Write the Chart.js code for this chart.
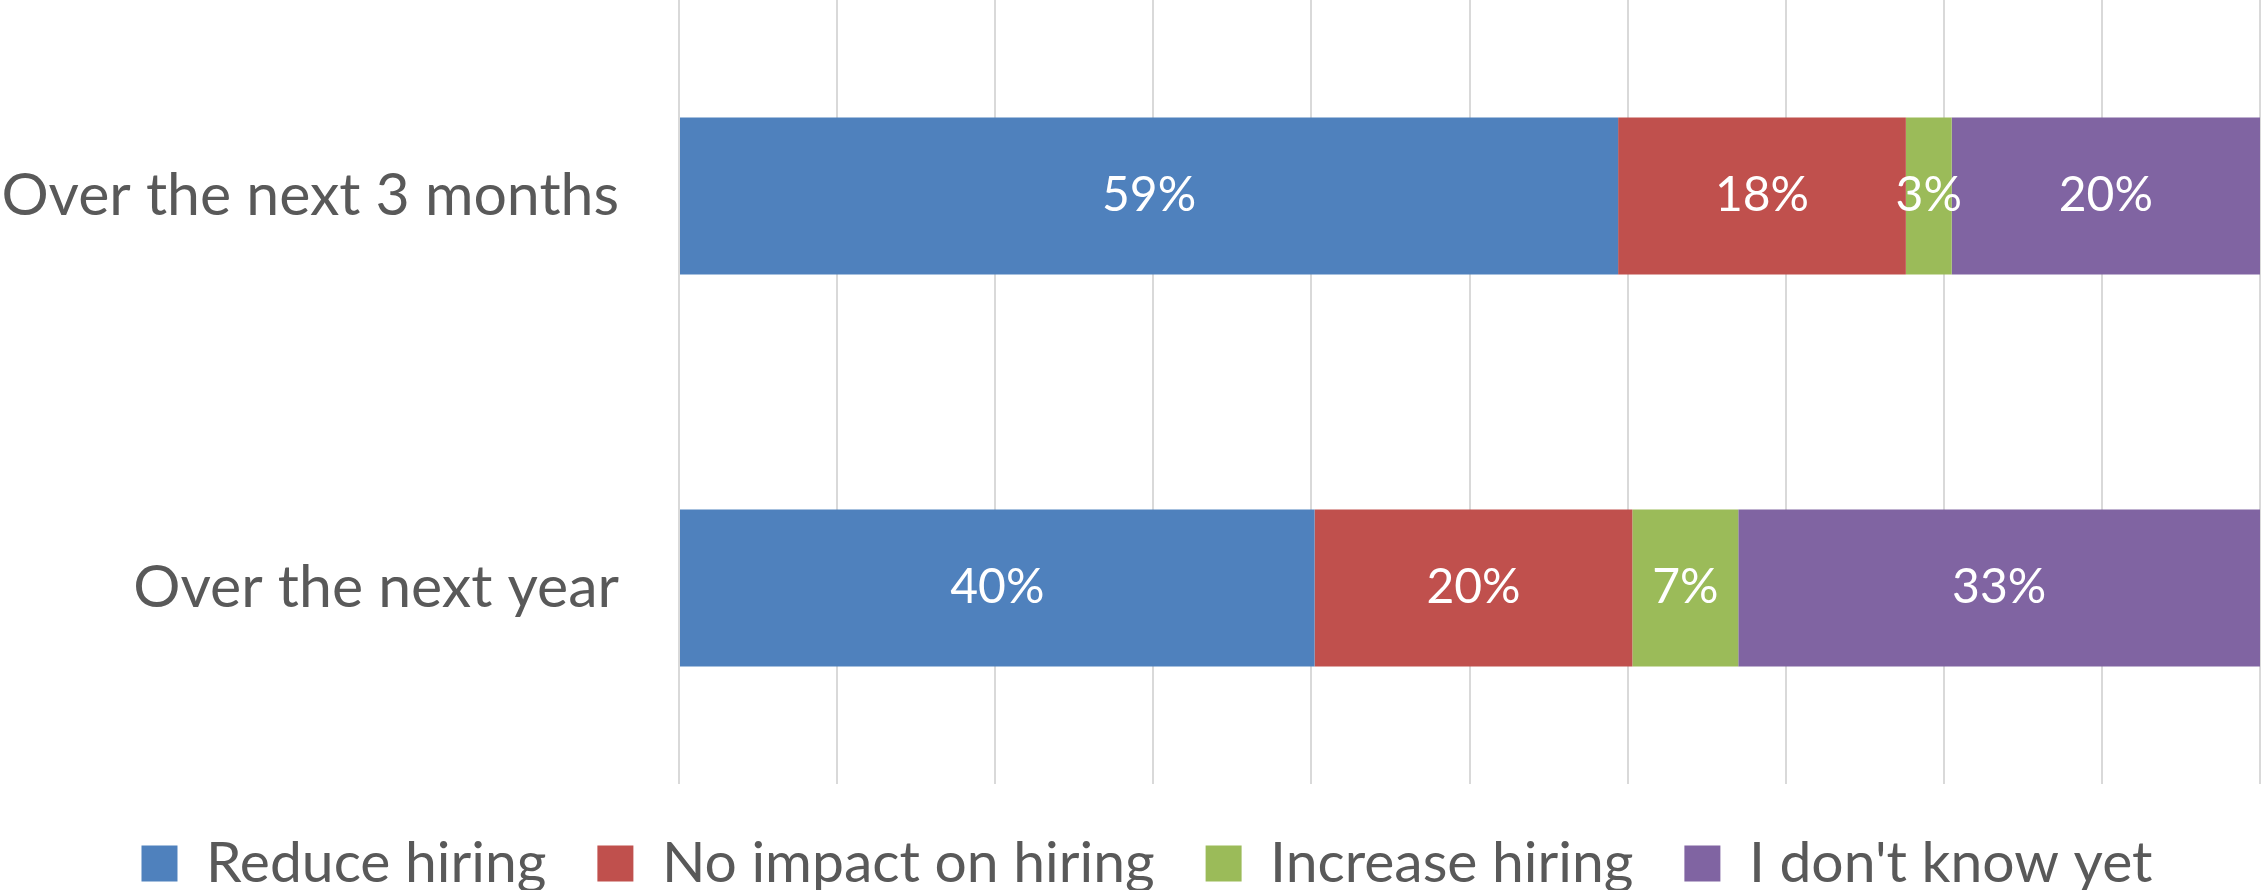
<!DOCTYPE html>
<html>
<head>
<meta charset="utf-8">
<script src="https://cdn.jsdelivr.net/npm/chart.js@4.4.1/dist/chart.umd.min.js"></script>
<style>
    html, body { margin: 0; padding: 0; background: #ffffff; }
    #wrap { width: 2265px; height: 890px; }
</style>
</head>
<body>
<div id="wrap"><canvas id="hiringChart"></canvas></div>
<script>
const categories = ["Over the next 3 months", "Over the next year"];
const seriesNames = ["Reduce hiring", "No impact on hiring", "Increase hiring", "I don't know yet"];
const reduceHiring = [59.4, 40.2];
const noImpact = [18.2, 20.1];
const increaseHiring = [2.9, 6.7];
const dontKnow = [19.5, 33.0];
const xTicks = [0, 10, 20, 30, 40, 50, 60, 70, 80, 90, 100];

const colors = ["#4F81BD", "#C0504D", "#9BBB59", "#8064A2"];
const FONT = "Lato, 'Liberation Sans', sans-serif";

// etichette bianche al centro di ogni segmento
const barLabels = {
    id: "barLabels",
    afterDatasetsDraw(chart) {
        const ctx = chart.ctx;
        ctx.save();
        ctx.fillStyle = "#ffffff";
        ctx.font = "48px " + FONT;
        ctx.textAlign = "center";
        ctx.textBaseline = "middle";
        chart.data.datasets.forEach((ds, i) => {
            chart.getDatasetMeta(i).data.forEach((bar, j) => {
                const x = (bar.x + bar.base) / 2;
                ctx.fillText(Math.round(ds.data[j]) + "%", x, bar.y);
            });
        });
        ctx.restore();
    }
};

// sposta un po' la legenda a destra
const legendShift = {
    id: "legendShift",
    afterLayout(chart) {
        if (chart.legend) {
            chart.legend.left += 17;
            chart.legend.right += 17;
        }
    }
};

new Chart(document.getElementById("hiringChart"), {
    type: "bar",
    data: {
        labels: categories,
        datasets: [reduceHiring, noImpact, increaseHiring, dontKnow].map((values, i) => ({
            label: seriesNames[i],
            data: values,
            backgroundColor: colors[i],
            borderWidth: 0,
            categoryPercentage: 1,
            barPercentage: 0.4
        }))
    },
    options: {
        indexAxis: "y",
        responsive: true,
        maintainAspectRatio: false,
        animation: false,
        layout: { padding: { left: 0, right: 5, top: 0, bottom: -12 } },
        scales: {
            x: {
                stacked: true,
                min: 0,
                max: 100,
                afterBuildTicks: scale => { scale.ticks = xTicks.map(v => ({ value: v })); },
                afterFit: scale => { scale.height = 0; },
                ticks: { display: false },
                grid: { color: "#d9d9d9", lineWidth: 2, drawTicks: false },
                border: { display: false }
            },
            y: {
                stacked: true,
                afterFit: scale => {
                    scale.width = 679;
                    scale.paddingTop = 0;
                    scale.paddingBottom = 0;
                },
                grid: { display: false },
                border: { display: false },
                ticks: {
                    color: "#595959",
                    padding: 52,
                    font: { family: FONT, size: 59 }
                }
            }
        },
        plugins: {
            legend: {
                position: "bottom",
                labels: {
                    color: "#595959",
                    boxWidth: 36,
                    boxHeight: 36,
                    padding: 51,
                    font: { family: FONT, size: 57 }
                }
            },
            tooltip: { enabled: false }
        }
    },
    plugins: [barLabels, legendShift]
});
</script>
</body>
</html>
